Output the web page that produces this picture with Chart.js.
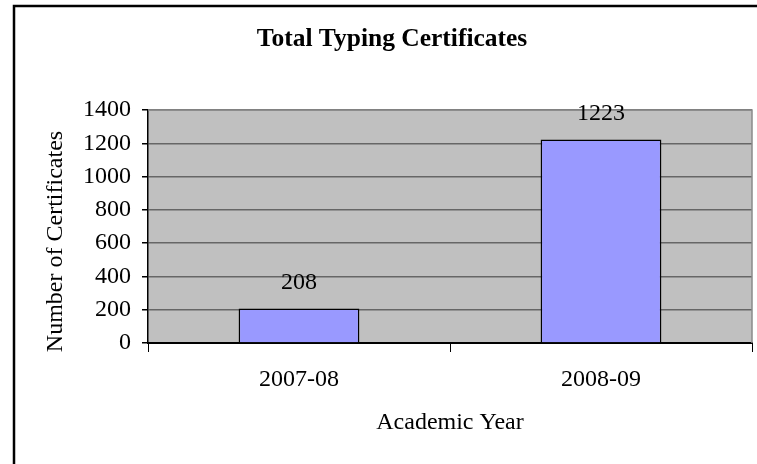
<!DOCTYPE html>
<html>
<head>
<meta charset="utf-8">
<script src="https://cdn.jsdelivr.net/npm/chart.js@4"></script>
<style>
	body { margin: 0; background: #fff; }
	canvas { display: block; }
</style>
</head>
<body>
<canvas id="chart" width="757" height="464"></canvas>
<script>
// ================ Data ================
const years = ["2007-08", "2008-09"];
const certificates = [208, 1223];
const yTicks = [0, 200, 400, 600, 800, 1000, 1200, 1400];

const FONT = "'Liberation Serif', 'Times New Roman', serif";

// grey plot background, plot frame and the outer chart frame
const backdrop = {
	id: "backdrop",
	beforeDraw(chart) {
		const { ctx, chartArea: a } = chart;
		ctx.save();
		ctx.fillStyle = "#fff";
		ctx.fillRect(0, 0, chart.width, chart.height);
		ctx.strokeStyle = "#000";
		ctx.lineWidth = 2.5;
		ctx.beginPath();
		ctx.moveTo(14, 480);
		ctx.lineTo(14, 6);
		ctx.lineTo(780, 6);
		ctx.stroke();
		ctx.fillStyle = "#c0c0c0";
		ctx.fillRect(a.left, a.top, a.right - a.left, a.bottom - a.top);
		ctx.restore();
	},
	afterDatasetsDraw(chart) {
		const { ctx, chartArea: a } = chart;
		ctx.save();
		ctx.strokeStyle = "#8a8a8a";
		ctx.lineWidth = 1.5;
		ctx.beginPath();
		ctx.moveTo(a.left, a.top);
		ctx.lineTo(a.right, a.top);
		ctx.lineTo(a.right, a.bottom);
		ctx.stroke();
		ctx.restore();
	},
};

// value above each bar
const valueLabels = {
	id: "valueLabels",
	afterDatasetsDraw(chart) {
		const { ctx } = chart;
		const meta = chart.getDatasetMeta(0);
		ctx.save();
		ctx.font = "24px " + FONT;
		ctx.fillStyle = "#000";
		ctx.textAlign = "center";
		ctx.textBaseline = "middle";
		meta.data.forEach((bar, i) => {
			ctx.fillText(String(certificates[i]), bar.x, bar.y - 26);
		});
		ctx.restore();
	},
};

const chart = new Chart(document.getElementById("chart"), {
	type: "bar",
	data: {
		labels: years,
		datasets: [
			{
				data: certificates,
				backgroundColor: "#9999ff",
				borderColor: "#000",
				borderWidth: 1.5,
				barPercentage: 0.4,
				categoryPercentage: 1.0,
			},
		],
	},
	options: {
		responsive: false,
		animation: false,
		devicePixelRatio: 1,
		layout: {
			padding: { top: 0, left: 32, right: 5, bottom: 16 },
		},
		plugins: {
			legend: { display: false },
			tooltip: { enabled: false },
			title: {
				display: true,
				text: "Total Typing Certificates",
				color: "#000",
				font: { family: FONT, size: 25.5, weight: "bold" },
				padding: { top: 23.7, bottom: 55.7 },
			},
		},
		scales: {
			x: {
				grid: {
					offset: true,
					drawOnChartArea: false,
					tickColor: "#000",
					tickLength: 9,
				},
				border: { color: "#000", width: 2 },
				ticks: {
					color: "#000",
					font: { family: FONT, size: 24 },
					padding: 13,
				},
				title: {
					display: true,
					text: "Academic Year",
					color: "#000",
					font: { family: FONT, size: 24 },
					padding: { top: 0, bottom: 11 },
				},
				afterFit(scale) {
					scale.height = 105;
				},
			},
			y: {
				min: 0,
				max: 1400,
				afterBuildTicks(scale) {
					scale.ticks = yTicks.map((v) => ({ value: v }));
				},
				grid: {
					color: "#666",
					lineWidth: 1.5,
					tickColor: "#000",
					tickLength: 6,
				},
				border: { color: "#000", width: 1.5 },
				ticks: {
					color: "#000",
					font: { family: FONT, size: 24 },
					padding: 11,
					callback: (v) => String(v),
				},
				title: {
					display: true,
					text: "Number of Certificates     ",
					color: "#000",
					font: { family: FONT, size: 24 },
					padding: { top: 9, bottom: 0 },
				},
				afterFit(scale) {
					scale.width = 116;
				},
			},
		},
	},
	plugins: [backdrop, valueLabels],
});
</script>
</body>
</html>
